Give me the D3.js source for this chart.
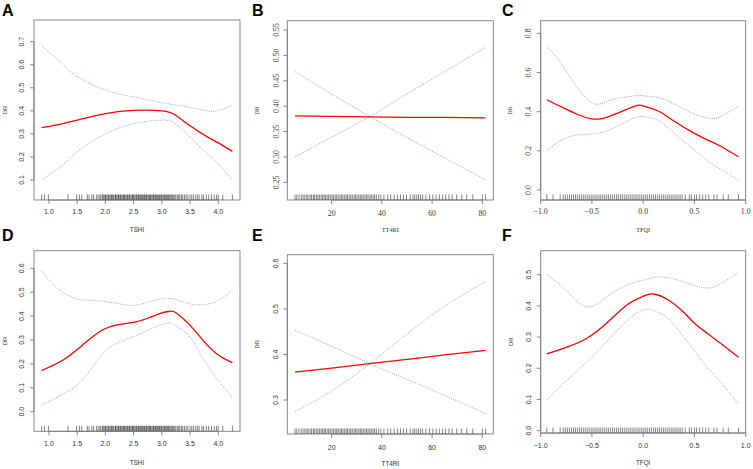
<!DOCTYPE html>
<html><head><meta charset="utf-8">
<script src="https://cdn.jsdelivr.net/npm/d3@7"></script>
<style>body{margin:0;background:#fff}</style>
</head><body><svg id="c" width="753" height="469"></svg>
<script>
// ---------- data ----------
const tshiXA = [0.87, 1.25, 1.5, 2.0, 2.5, 3.0, 3.25, 3.5, 3.8, 4.0, 4.25];
const aFit = [0.327, 0.345, 0.360, 0.388, 0.402, 0.400, 0.380, 0.335, 0.288, 0.261, 0.224];
const aHi  = [0.683, 0.600, 0.548, 0.490, 0.460, 0.436, 0.425, 0.415, 0.400, 0.401, 0.425];
const aLo  = [0.100, 0.166, 0.223, 0.300, 0.344, 0.360, 0.342, 0.286, 0.215, 0.170, 0.100];

const tt4riX = [5.4, 20, 35, 50, 65, 81.3];
const bFit = [0.381, 0.380, 0.379, 0.378, 0.378, 0.377];
const bHi  = [0.300, 0.339, 0.379, 0.424, 0.468, 0.516];
const bLo  = [0.468, 0.424, 0.380, 0.338, 0.298, 0.255];

const tfqiXC = [-0.94, -0.8, -0.65, -0.5, -0.4, -0.3, -0.1, 0.0, 0.15, 0.3, 0.5, 0.65, 0.75, 0.93];
const cFit = [0.460, 0.425, 0.388, 0.363, 0.365, 0.382, 0.425, 0.430, 0.402, 0.352, 0.289, 0.250, 0.225, 0.170];
const cHi  = [0.732, 0.645, 0.528, 0.446, 0.443, 0.462, 0.480, 0.481, 0.471, 0.440, 0.388, 0.366, 0.374, 0.429];
const cLo  = [0.200, 0.255, 0.280, 0.287, 0.295, 0.314, 0.366, 0.374, 0.355, 0.290, 0.204, 0.140, 0.108, 0.051];

const tshiXD = [0.87, 1.0, 1.25, 1.5, 1.75, 2.0, 2.25, 2.5, 2.75, 3.0, 3.15, 3.25, 3.5, 3.75, 4.0, 4.25];
const dFit = [0.172, 0.186, 0.216, 0.260, 0.309, 0.348, 0.365, 0.374, 0.391, 0.414, 0.420, 0.414, 0.361, 0.293, 0.237, 0.205];
const dHi  = [0.590, 0.550, 0.500, 0.472, 0.466, 0.461, 0.451, 0.445, 0.458, 0.472, 0.474, 0.469, 0.451, 0.448, 0.465, 0.507];
const dLo  = [0.029, 0.042, 0.074, 0.112, 0.179, 0.254, 0.291, 0.315, 0.340, 0.365, 0.371, 0.358, 0.312, 0.214, 0.130, 0.060];

const eFit = [0.361, 0.370, 0.380, 0.389, 0.399, 0.409];
const eHi  = [0.275, 0.320, 0.379, 0.445, 0.506, 0.560];
const eLo  = [0.453, 0.418, 0.380, 0.345, 0.310, 0.270];

const tfqiXF = [-0.94, -0.75, -0.55, -0.35, -0.15, 0.0, 0.1, 0.25, 0.4, 0.5, 0.62, 0.75, 0.93];
const fFit = [0.246, 0.267, 0.296, 0.347, 0.405, 0.431, 0.438, 0.418, 0.378, 0.344, 0.313, 0.281, 0.235];
const fHi  = [0.500, 0.449, 0.397, 0.430, 0.468, 0.482, 0.491, 0.490, 0.476, 0.465, 0.457, 0.470, 0.507];
const fLo  = [0.098, 0.160, 0.220, 0.288, 0.355, 0.387, 0.385, 0.358, 0.298, 0.256, 0.205, 0.158, 0.083];

const tshiRug = [0.87,0.92,0.99,1.34,1.49,1.54,1.58,1.68,1.71,1.76,1.79,1.84,1.87,1.9,1.92,1.95,1.96,1.98,2.0,2.01,2.03,2.05,2.06,2.08,2.1,2.11,2.13,2.14,2.17,2.18,2.19,2.21,2.23,2.24,2.26,2.27,2.29,2.31,2.32,2.34,2.35,2.37,2.39,2.4,2.42,2.43,2.45,2.47,2.48,2.5,2.51,2.53,2.55,2.56,2.58,2.59,2.61,2.62,2.64,2.66,2.67,2.69,2.7,2.72,2.73,2.75,2.77,2.78,2.8,2.81,2.83,2.85,2.86,2.88,2.89,2.91,2.92,2.94,2.96,2.97,2.99,3.0,3.02,3.04,3.05,3.07,3.08,3.1,3.12,3.13,3.15,3.17,3.19,3.21,3.23,3.25,3.28,3.3,3.32,3.35,3.37,3.4,3.43,3.46,3.5,3.53,3.56,3.6,3.63,3.66,3.71,3.74,3.79,3.83,3.88,3.93,3.97,4.0,4.08,4.25];
const tt4riRug = [5.4,6.1,7.0,7.9,8.6,9.3,10.1,10.6,11.4,12.0,12.7,13.2,13.9,14.5,15.1,15.8,16.4,17.0,17.5,18.2,18.8,19.4,20.1,20.7,21.4,22.0,22.6,23.3,23.9,24.5,25.2,25.8,26.3,27.0,27.6,28.2,28.9,29.5,30.1,30.8,31.4,32.0,32.6,33.3,33.9,34.5,35.2,35.8,36.5,37.1,37.8,38.7,39.6,40.8,42.3,43.5,44.9,46.2,47.4,48.6,49.8,51.3,52.4,53.1,53.9,54.6,55.4,56.2,57.5,59.0,60.3,61.6,62.9,64.2,65.4,66.7,68.0,69.8,71.8,73.8,76.2,80.0,81.3];
const tfqiRug = [-0.94,-0.88,-0.81,-0.78,-0.76,-0.74,-0.72,-0.7,-0.68,-0.66,-0.64,-0.62,-0.6,-0.58,-0.56,-0.54,-0.52,-0.5,-0.48,-0.46,-0.44,-0.42,-0.4,-0.38,-0.36,-0.34,-0.32,-0.3,-0.28,-0.26,-0.24,-0.22,-0.2,-0.18,-0.16,-0.14,-0.12,-0.1,-0.08,-0.06,-0.04,-0.02,0.0,0.02,0.04,0.06,0.08,0.1,0.12,0.14,0.16,0.18,0.2,0.22,0.24,0.26,0.28,0.3,0.32,0.34,0.36,0.38,0.41,0.45,0.47,0.5,0.52,0.55,0.58,0.61,0.64,0.69,0.72,0.78,0.83,0.93];

const yTicksA = [0.1,0.2,0.3,0.4,0.5,0.6,0.7];
const yTicksB = [0.25,0.30,0.35,0.40,0.45,0.50,0.55];
const yTicksC = [0.0,0.2,0.4,0.6,0.8];
const yTicksD = [0.0,0.1,0.2,0.3,0.4,0.5,0.6];
const yTicksE = [0.3,0.4,0.5,0.6];
const yTicksF = [0.0,0.1,0.2,0.3,0.4,0.5];
const xTicksTSHI = [1.0,1.5,2.0,2.5,3.0,3.5,4.0];
const xTicksTT4RI = [20,40,60,80];
const xTicksTFQI = [-1.0,-0.5,0.0,0.5,1.0];

// ---------- layout ----------
const SANS = "'Liberation Sans', Arial, sans-serif";
const SERIF = "'Liberation Serif', 'Times New Roman', serif";
const panels = [
 {letter:"A", lx:2, ly:16, box:[34,240,20,200], xd:[0.735,4.385], yd:[0.0133,0.794], x:tshiXA, fit:aFit, hi:aHi, lo:aLo, rug:tshiRug, xt:xTicksTSHI, yt:yTicksA, xf:".1f", yf:".1f", xlab:"TSHI", font:SANS, fs:7, ytx:21.7, ylx:5.3, xty:211.7, xly:230},
 {letter:"B", lx:252, ly:16, box:[287.3,493.3,20.7,200], xd:[2.33,84.37], yd:[0.2152,0.5683], x:tt4riX, fit:bFit, hi:bHi, lo:bLo, rug:tt4riRug, xt:xTicksTT4RI, yt:yTicksB, xf:"d", yf:".2f", xlab:"TT4RI", font:SERIF, fs:7.8, ytx:276.7, ylx:257.3, xty:213.3, xly:230},
 {letter:"C", lx:502, ly:16, box:[540.7,745.7,20.7,200], xd:[-1,1], yd:[-0.051,0.8645], x:tfqiXC, fit:cFit, hi:cHi, lo:cLo, rug:tfqiRug, xt:xTicksTFQI, yt:yTicksC, xf:".1f", yf:".1f", xlab:"TFQI", font:SERIF, fs:7.8, ytx:528.3, ylx:510, xty:211.7, xly:230},
 {letter:"D", lx:2, ly:241, box:[34,240,250.7,431.3], xd:[0.735,4.385], yd:[-0.0822,0.6738], x:tshiXD, fit:dFit, hi:dHi, lo:dLo, rug:tshiRug, xt:xTicksTSHI, yt:yTicksD, xf:".1f", yf:".1f", xlab:"TSHI", font:SANS, fs:7, ytx:21.7, ylx:5.3, xty:444, xly:462.3},
 {letter:"E", lx:252, ly:241, box:[287.3,493.3,254.7,434], xd:[2.33,84.37], yd:[0.2254,0.619], x:tt4riX, fit:eFit, hi:eHi, lo:eLo, rug:tt4riRug, xt:xTicksTT4RI, yt:yTicksE, xf:"d", yf:".1f", xlab:"TT4RI", font:SANS, fs:7, ytx:276, ylx:256.7, xty:447.3, xly:464},
 {letter:"F", lx:502, ly:241, box:[540.7,745.7,250.7,433], xd:[-1,1], yd:[-0.0075,0.5768], x:tfqiXF, fit:fFit, hi:fHi, lo:fLo, rug:tfqiRug, xt:xTicksTFQI, yt:yTicksF, xf:".1f", yf:".1f", xlab:"TFQI", font:SANS, fs:7, ytx:528.3, ylx:510.7, xty:445.7, xly:462.3}
];

const svg = d3.select("#c");
const BOX = "#7c7c7c", TXT = "#333";

panels.forEach(p => {
  const [x0,x1,y0,y1] = p.box;
  const xs = d3.scaleLinear().domain(p.xd).range([x0,x1]);
  const ys = d3.scaleLinear().domain(p.yd).range([y1,y0]);
  const g = svg.append("g");

  g.append("rect").attr("x",x0).attr("y",y0).attr("width",x1-x0).attr("height",y1-y0)
    .attr("fill","none").attr("stroke",BOX).attr("stroke-width",0.9);

  // rug
  g.append("g").selectAll("line").data(p.rug).join("line")
    .attr("x1",d=>xs(d)).attr("x2",d=>xs(d)).attr("y1",y1).attr("y2",y1-5.5)
    .attr("stroke","#000").attr("stroke-opacity",0.55).attr("stroke-width",0.9);

  // x axis
  const xa = g.append("g");
  xa.append("line").attr("x1",xs(p.xt[0])).attr("x2",xs(p.xt[p.xt.length-1]))
    .attr("y1",y1).attr("y2",y1).attr("stroke",BOX).attr("stroke-width",0.9);
  xa.selectAll("line.t").data(p.xt).join("line").attr("class","t")
    .attr("x1",d=>xs(d)).attr("x2",d=>xs(d)).attr("y1",y1).attr("y2",y1+4)
    .attr("stroke",BOX).attr("stroke-width",0.9);
  xa.selectAll("text").data(p.xt).join("text")
    .attr("x",d=>xs(d)).attr("y",p.xty).attr("dy","0.35em")
    .attr("text-anchor","middle").attr("font-family",p.font).attr("font-size",p.fs)
    .attr("fill",TXT).text(d=>d3.format(p.xf)(d).replace("-","\u2212"));

  // y axis
  const ya = g.append("g");
  ya.append("line").attr("x1",x0).attr("x2",x0)
    .attr("y1",ys(p.yt[0])).attr("y2",ys(p.yt[p.yt.length-1])).attr("stroke",BOX).attr("stroke-width",0.9);
  ya.selectAll("line.t").data(p.yt).join("line").attr("class","t")
    .attr("x1",x0).attr("x2",x0-4).attr("y1",d=>ys(d)).attr("y2",d=>ys(d))
    .attr("stroke",BOX).attr("stroke-width",0.9);
  ya.selectAll("text").data(p.yt).join("text")
    .attr("transform",d=>`translate(${p.ytx},${ys(d)}) rotate(-90)`).attr("dy","0.35em")
    .attr("text-anchor","middle").attr("font-family",p.font).attr("font-size",p.fs)
    .attr("fill",TXT).text(d=>d3.format(p.yf)(d));

  // labels
  g.append("text").attr("x",(x0+x1)/2).attr("y",p.xly).attr("dy","0.35em")
    .attr("text-anchor","middle").attr("font-family",p.font).attr("font-size",6.3)
    .attr("fill",TXT).text(p.xlab);
  g.append("text").attr("transform",`translate(${p.ylx},${(y0+y1)/2}) rotate(-90)`).attr("dy","0.35em")
    .attr("text-anchor","middle").attr("font-family",p.font).attr("font-size",5.8)
    .attr("fill",TXT).text("DR");

  // curves
  const mk = arr => d3.line().x((d,i)=>xs(p.x[i])).y(d=>ys(d)).curve(d3.curveNatural)(arr);
  [p.hi,p.lo].forEach(arr => g.append("path").attr("d",mk(arr)).attr("fill","none")
      .attr("stroke","#8f8fff").attr("stroke-width",0.9).attr("stroke-dasharray","1,1.3"));
  g.append("path").attr("d",mk(p.fit)).attr("fill","none")
    .attr("stroke","#ff0000").attr("stroke-width",1.3);

  svg.append("text").attr("x",p.lx).attr("y",p.ly).attr("font-family",SANS)
    .attr("font-weight","bold").attr("font-size",16).attr("fill","#000").text(p.letter);
});
</script></body></html>
